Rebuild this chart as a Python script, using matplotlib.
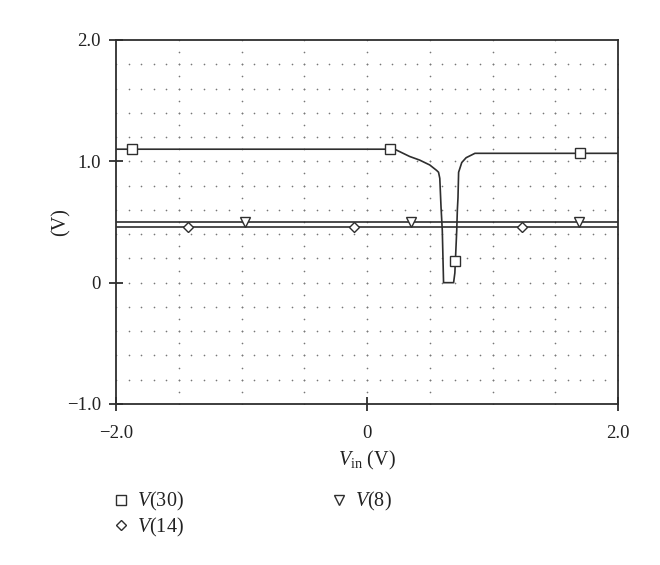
import numpy as np
import matplotlib
matplotlib.use("Agg")
import matplotlib.pyplot as plt
from matplotlib.lines import Line2D

plt.rcParams["font.family"] = ["Liberation Serif", "DejaVu Serif"]
plt.rcParams["mathtext.fontset"] = "custom"
plt.rcParams["mathtext.rm"] = "Liberation Serif"
plt.rcParams["mathtext.it"] = "Liberation Serif:italic"

# V(30) trace
v30_x = [-2.0, 0.22, 0.26, 0.34, 0.42, 0.50, 0.555, 0.57, 0.58, 0.59, 0.60, 0.61,
         0.69, 0.70, 0.715, 0.72, 0.725, 0.73, 0.755, 0.79, 0.86, 2.0]
v30_y = [1.10, 1.10, 1.08, 1.04, 1.01, 0.97, 0.925, 0.91, 0.86, 0.62, 0.43, 0.0,
         0.0, 0.08, 0.43, 0.60, 0.70, 0.91, 0.99, 1.03, 1.066, 1.066]
v30_mx = [-1.87, 0.18, 0.70, 1.70]
v30_my = [1.10, 1.10, 0.18, 1.066]

# V(8) and V(14) are flat
v8_x = [-2.0, 2.0]
v8_y = [0.504, 0.504]
v8_mx = [-0.97, 0.35, 1.69]

v14_x = [-2.0, 2.0]
v14_y = [0.455, 0.455]
v14_mx = [-1.43, -0.10, 1.235]

xticks = [-2.0, 0.0, 2.0]
xtick_labels = ["\u22122.0", "0", "2.0"]
yticks = [-1.0, 0.0, 1.0, 2.0]
ytick_labels = ["\u22121.0", "0", "1.0", "2.0"]

lc = "#2e2e2e"
fig = plt.figure(figsize=(6.6, 5.65), dpi=100)
ax = fig.add_axes([116 / 660, 1 - 404 / 565, 502 / 660, 364 / 565])
ax.set_xlim(-2, 2)
ax.set_ylim(-1, 2)

# dotted grid: horizontal every 0.2, vertical every 0.5, dots every 0.1
gx = np.arange(-2.0, 2.0001, 0.1)
for gy in np.arange(-0.8, 1.81, 0.2):
    ax.plot(gx, np.full_like(gx, gy), ls="none", marker="o", ms=1.2,
            mfc="#777777", mec="none", zorder=1)
gyy = np.arange(-1.0, 2.0001, 0.1)
for xv in np.arange(-1.5, 1.51, 0.5):
    ax.plot(np.full_like(gyy, xv), gyy, ls="none", marker="o", ms=1.2,
            mfc="#777777", mec="none", zorder=1)

ax.plot(v30_x, v30_y, color=lc, lw=1.2, zorder=3)
ax.plot(v8_x, v8_y, color=lc, lw=1.2, zorder=3)
ax.plot(v14_x, v14_y, color=lc, lw=1.2, zorder=3)

mk = dict(ls="none", mfc="white", mec=lc, mew=1.0, zorder=4)
ax.plot(v30_mx, v30_my, marker="s", ms=7, **mk)
ax.plot(v8_mx, np.interp(v8_mx, v8_x, v8_y), marker="v", ms=6.5, **mk)
ax.plot(v14_mx, np.interp(v14_mx, v14_x, v14_y), marker="D", ms=5, **mk)

for s in ax.spines.values():
    s.set_color(lc)
    s.set_linewidth(1.3)
ax.set_xticks(xticks)
ax.set_xticklabels(xtick_labels)
ax.set_yticks(yticks)
ax.set_yticklabels(ytick_labels)
ax.tick_params(direction="inout", length=10, width=1.3, color=lc,
               labelsize=13.5, labelcolor="#222222")
ax.tick_params(axis="x", pad=10)
ax.tick_params(axis="y", pad=6)

ax.set_xlabel(r"$V_{\mathrm{in}}$ (V)", fontsize=14.5, color="#222222", labelpad=5)
ax.set_ylabel("(V)", fontsize=14.5, color="#222222")
ax.yaxis.set_label_coords(-0.09, 0.5)

handles = [
    Line2D([], [], marker="s", ms=7, ls="none", mfc="white", mec=lc, mew=1.0),
    Line2D([], [], marker="D", ms=5, ls="none", mfc="white", mec=lc, mew=1.0),
    Line2D([], [], marker="v", ms=6.5, ls="none", mfc="white", mec=lc, mew=1.0),
]
labels = [r"$V$(30)", r"$V$(14)", r"$V$(8)"]
fig.legend(handles, labels, loc="upper left", bbox_to_anchor=(95 / 660, 1 - 472 / 565),
           ncol=2, frameon=False, fontsize=14.5, handlelength=0.8, handletextpad=0.4,
           columnspacing=7.3, labelspacing=0.12, labelcolor="#222222")

fig.savefig("out.png", dpi=100)
